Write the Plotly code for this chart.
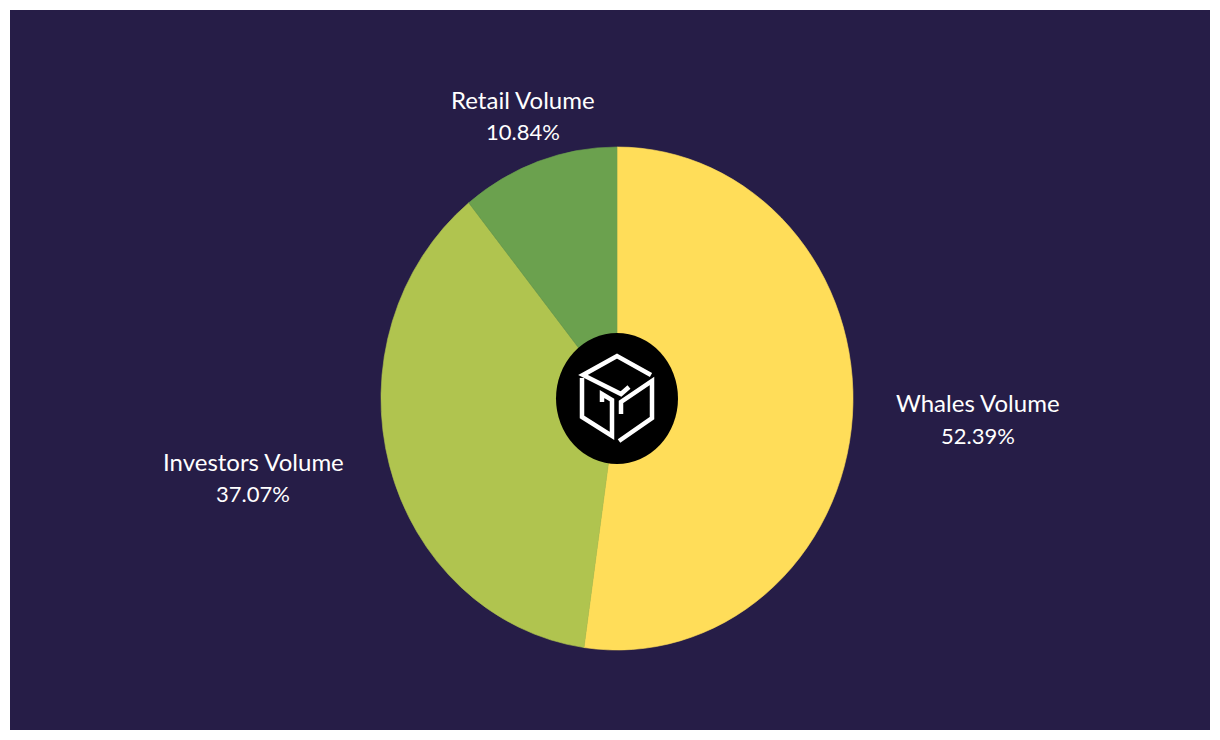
import plotly.graph_objects as go

W, H = 1220, 740

labels = ["Whales Volume", "Investors Volume", "Retail Volume"]
values = [52.39, 37.07, 10.84]
colors = ["#FFDD59", "#B0C44F", "#6BA14E"]


def px(x):
    return x / W


def py(y):
    return 1 - y / H


def path(points):
    return "M " + " L ".join(f"{px(x):.5f},{py(y):.5f}" for x, y in points)


fig = go.Figure()

# pie is circular in plotly, the reference is a bit taller than wide (see post_script)
cx, cy, rx, ry = 617, 398.5, 236, 251.5
fig.add_trace(go.Pie(
    labels=labels,
    values=values,
    sort=False,
    direction="clockwise",
    rotation=0,
    textinfo="none",
    hole=0,
    # outline in the slice colour hides the seam between slices
    marker=dict(colors=colors, line=dict(color=colors, width=0.6)),
    domain=dict(x=[px(cx - rx), px(cx + rx)], y=[py(cy + rx), py(cy - rx)]),
    showlegend=False,
))

shapes = [
    dict(type="rect", xref="paper", yref="paper", layer="below",
         x0=px(10), x1=px(1210), y0=py(730), y1=py(10),
         fillcolor="#261D47", line=dict(width=0)),
    dict(type="circle", xref="paper", yref="paper", layer="above",
         x0=px(556), x1=px(678), y0=py(464), y1=py(333),
         fillcolor="#000000", line=dict(width=0)),
]

# white cube logo in the middle
logo = [
    [(651, 375), (617, 356), (583, 375), (621, 394), (629, 387)],
    [(582, 378), (582, 417), (612, 436), (612, 400), (602, 394), (602, 402)],
    [(619, 441), (652, 418), (652, 381), (621, 402), (621, 414)],
]
for pts in logo:
    shapes.append(dict(type="path", xref="paper", yref="paper", layer="above",
                       path=path(pts), line=dict(color="#FFFFFF", width=4.5)))

# x centre, y of the name line, y of the percent line
label_pos = {
    "Whales Volume": (978, 402.5, 435),
    "Investors Volume": (253, 461.5, 494),
    "Retail Volume": (523, 99.5, 132),
}
annotations = []
for name, val in zip(labels, values):
    x, y_name, y_val = label_pos[name]
    annotations.append(dict(
        xref="paper", yref="paper", x=px(x), y=py(y_name),
        text=name, showarrow=False, xanchor="center", yanchor="middle",
        font=dict(family="Lato", size=24, color="#FFFFFF"),
    ))
    annotations.append(dict(
        xref="paper", yref="paper", x=px(x), y=py(y_val),
        text=f"{val:.2f}%", showarrow=False, xanchor="center", yanchor="middle",
        font=dict(family="Lato", size=22, color="#FFFFFF"),
    ))

fig.update_layout(
    width=W, height=H,
    margin=dict(l=0, r=0, t=0, b=0),
    paper_bgcolor="#FFFFFF",
    shapes=shapes,
    annotations=annotations,
)

# no page margin, and stretch the pie layer vertically to the reference's ellipse
post = f"""
document.body.style.margin = '0';
var gd = document.getElementsByClassName('plotly-graph-div')[0];
var stretch = function() {{
    var pl = gd.querySelector('.pielayer');
    if (pl) pl.setAttribute('transform', 'translate(0 {cy}) scale(1 {ry / rx:.4f}) translate(0 {-cy})');
}};
stretch();
gd.on('plotly_afterplot', stretch);
"""
fig.write_html("out.html", post_script=post, config=dict(displayModeBar=False))
